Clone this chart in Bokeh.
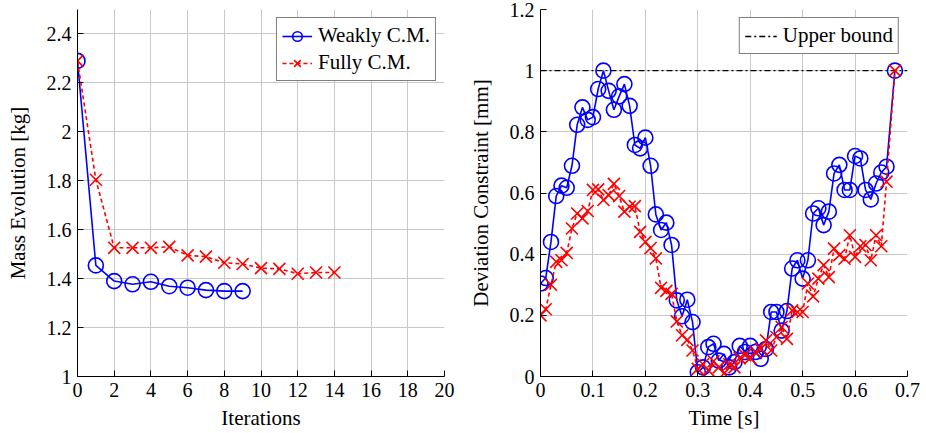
from bokeh.plotting import figure
from bokeh.layouts import row
from bokeh.models import Range1d, FixedTicker, Legend, LegendItem
from bokeh.embed import file_html
from bokeh.resources import INLINE

# ---- Mass evolution over optimisation iterations ----
iters_weak = [0, 1, 2, 3, 4, 5, 6, 7, 8, 9]
mass_weak = [2.29, 1.454, 1.39, 1.377, 1.387, 1.369, 1.363, 1.353, 1.349, 1.349]

iters_full = [0, 1, 2, 3, 4, 5, 6, 7, 8, 9, 10, 11, 12, 13, 14]
mass_full = [2.29, 1.804, 1.526, 1.526, 1.526, 1.53, 1.495, 1.49, 1.465, 1.46,
             1.443, 1.44, 1.42, 1.425, 1.425]

# ---- Deviation constraint over time ----
time_s = [round(0.01 * i, 2) for i in range(67)] + [0.676]

dev_weak = [0.304, 0.322, 0.44, 0.59, 0.624, 0.617, 0.689, 0.823, 0.88, 0.839,
            0.848, 0.94, 1.0, 0.934, 0.872, 0.916, 0.956, 0.885, 0.757, 0.746,
            0.781, 0.689, 0.53, 0.479, 0.503, 0.43, 0.249, 0.197, 0.251, 0.178,
            0.014, 0.03, 0.096, 0.107, 0.052, 0.074, 0.03, 0.047, 0.10, 0.08,
            0.10, 0.08, 0.058, 0.09, 0.211, 0.211, 0.15, 0.214, 0.353, 0.38,
            0.32, 0.38, 0.533, 0.55, 0.495, 0.539, 0.664, 0.692, 0.61, 0.61,
            0.721, 0.713, 0.61, 0.579, 0.631, 0.667, 0.686, 1.0]

dev_full = [0.20, 0.22, 0.30, 0.375, 0.38, 0.404, 0.484, 0.533, 0.517, 0.541,
            0.61, 0.612, 0.577, 0.593, 0.63, 0.59, 0.539, 0.555, 0.557, 0.473,
            0.44, 0.42, 0.386, 0.29, 0.28, 0.27, 0.18, 0.135, 0.12, 0.085,
            0.025, 0.04, 0.02, 0.05, 0.03, 0.01, 0.04, 0.03, 0.06, 0.07,
            0.06, 0.08, 0.09, 0.118, 0.085, 0.129, 0.162, 0.123, 0.216, 0.211,
            0.211, 0.304, 0.262, 0.32, 0.364, 0.325, 0.418, 0.397, 0.385, 0.462,
            0.391, 0.426, 0.43, 0.38, 0.462, 0.426, 0.637, 1.0]

bound_t = [0.0, 0.7]
bound_val = [1.0, 1.0]

# ---- Tick positions and labels ----
mass_xticks = [0, 2, 4, 6, 8, 10, 12, 14, 16, 18, 20]
mass_xlabels = ["0", "2", "4", "6", "8", "10", "12", "14", "16", "18", "20"]
mass_yticks = [1.0, 1.2, 1.4, 1.6, 1.8, 2.0, 2.2, 2.4]
mass_ylabels = ["1", "1.2", "1.4", "1.6", "1.8", "2", "2.2", "2.4"]
dev_xticks = [0.0, 0.1, 0.2, 0.3, 0.4, 0.5, 0.6, 0.7]
dev_xlabels = ["0", "0.1", "0.2", "0.3", "0.4", "0.5", "0.6", "0.7"]
dev_yticks = [0.0, 0.2, 0.4, 0.6, 0.8, 1.0, 1.2]
dev_ylabels = ["0", "0.2", "0.4", "0.6", "0.8", "1", "1.2"]

FONT = "Liberation Serif"
BLUE = "#0000ff"
RED = "#ff0000"


def style_axes(p, xticks, xlabels, yticks, ylabels, xlabel, ylabel, ystandoff):
    p.outline_line_color = None
    p.xaxis.ticker = FixedTicker(ticks=xticks)
    p.yaxis.ticker = FixedTicker(ticks=yticks)
    p.xaxis.major_label_overrides = dict(zip(xticks, xlabels))
    p.yaxis.major_label_overrides = dict(zip(yticks, ylabels))
    p.xaxis.axis_label = xlabel
    p.yaxis.axis_label = ylabel
    for ax in (p.xaxis[0], p.yaxis[0]):
        ax.axis_line_color = "black"
        ax.axis_line_width = 1
        ax.major_tick_line_color = "black"
        ax.major_tick_in = 6
        ax.major_tick_out = 0
        ax.minor_tick_line_color = None
        ax.major_label_text_font = FONT
        ax.major_label_text_font_size = "20px"
        ax.major_label_text_color = "black"
        ax.major_label_standoff = 6
        ax.axis_label_text_font = FONT
        ax.axis_label_text_font_size = "21px"
        ax.axis_label_text_font_style = "normal"
        ax.axis_label_text_color = "black"
    p.xaxis.axis_label_standoff = 6
    p.yaxis.axis_label_standoff = ystandoff
    p.xgrid.ticker = FixedTicker(ticks=xticks)
    p.ygrid.ticker = FixedTicker(ticks=yticks)
    p.grid.grid_line_color = "#c8c8c8"
    p.grid.grid_line_width = 1


def make_legend(items, glyph_width):
    leg = Legend(items=items, location="top_right")
    leg.border_line_color = "black"
    leg.border_line_width = 1
    leg.background_fill_color = "white"
    leg.background_fill_alpha = 1.0
    leg.label_text_font = FONT
    leg.label_text_font_size = "21px"
    leg.label_text_color = "black"
    leg.glyph_width = glyph_width
    leg.glyph_height = 24
    leg.label_height = 24
    leg.label_standoff = 6
    leg.padding = 5
    leg.spacing = 2
    leg.margin = 8
    return leg


# ---- Left panel: mass ----
p1 = figure(frame_width=367, frame_height=367,
            min_border_left=77, min_border_right=21,
            min_border_top=9, min_border_bottom=57,
            x_range=Range1d(0, 20), y_range=Range1d(1, 2.5),
            output_backend="svg", toolbar_location=None)
style_axes(p1, mass_xticks, mass_xlabels, mass_yticks, mass_ylabels,
           "Iterations", "Mass Evolution [kg]", 14)

l_w = p1.line(iters_weak, mass_weak, line_color=BLUE, line_width=1.6)
s_w = p1.scatter(iters_weak, mass_weak, marker="circle", size=15,
                 fill_color=None, line_color=BLUE, line_width=1.6)
l_f = p1.line(iters_full, mass_full, line_color=RED, line_width=1.6, line_dash="4 3")
s_f = p1.scatter(iters_full, mass_full, marker="x", size=17,
                 line_color=RED, line_width=1.6)

p1.add_layout(make_legend([
    LegendItem(label="Weakly C.M.", renderers=[l_w, s_w]),
    LegendItem(label="Fully C.M.", renderers=[l_f, s_f]),
], 30))

# ---- Right panel: deviation ----
p2 = figure(frame_width=367, frame_height=367,
            min_border_left=73, min_border_right=21,
            min_border_top=9, min_border_bottom=57,
            x_range=Range1d(0, 0.7), y_range=Range1d(0, 1.2),
            output_backend="svg", toolbar_location=None)
style_axes(p2, dev_xticks, dev_xlabels, dev_yticks, dev_ylabels,
           "Time [s]", "Deviation Constraint [mm]", 14)

l_b = p2.line(bound_t, bound_val, line_color="black", line_width=1.3,
              line_dash="6 3 2 3")
p2.line(time_s, dev_weak, line_color=BLUE, line_width=1.6)
p2.scatter(time_s, dev_weak, marker="circle", size=15,
           fill_color=None, line_color=BLUE, line_width=1.6)
p2.line(time_s, dev_full, line_color=RED, line_width=1.6, line_dash="4 3")
p2.scatter(time_s, dev_full, marker="x", size=17,
           line_color=RED, line_width=1.6)

p2.add_layout(make_legend([LegendItem(label="Upper bound", renderers=[l_b])], 32))

layout = row(p1, p2)
open("out.html", "w").write(file_html(layout, INLINE))
